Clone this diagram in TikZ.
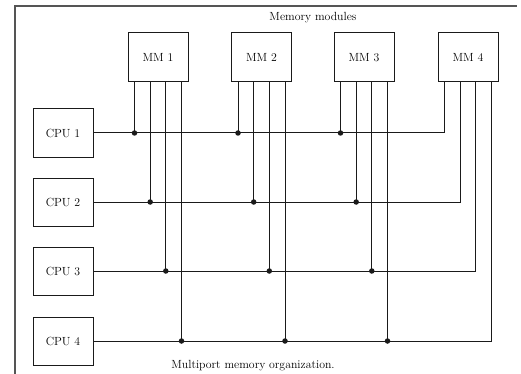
\documentclass[tikz,border=0pt]{standalone}
\usepackage{tikz}
\usetikzlibrary{calc}
\definecolor{framegray}{HTML}{555555}
\definecolor{inkblack}{HTML}{1A1A1A}

\begin{document}
\begin{tikzpicture}[x=1pt, y=-1pt, font=\fontsize{11.8}{13}\selectfont]
  \tikzstyle{mmbox}=[draw=inkblack,line width=1pt,minimum width=60pt,minimum height=49pt,inner sep=0pt]
  \tikzstyle{cpubox}=[draw=inkblack,line width=1pt,minimum width=60pt,minimum height=48pt,inner sep=0pt]
  \tikzstyle{wire}=[draw=inkblack,line width=1pt]
  \tikzstyle{dot}=[circle,fill=inkblack,inner sep=0pt,minimum size=5.5pt]
  \useasboundingbox (0,0) rectangle (521,374);
  % page frame
  \draw[framegray,line width=1.2pt] (15,374) -- (15,6) -- (517,6);
  % memory modules
  \node (title) at (313,18) {Memory modules};
  \node[mmbox] (mm1) at (158,57.5) {MM 1};
  \node[mmbox] (mm2) at (261.5,57.5) {MM 2};
  \node[mmbox] (mm3) at (364,57.5) {MM 3};
  \node[mmbox] (mm4) at (468,57.5) {MM 4};
  % processors
  \node[cpubox] (cpu1) at (63,133) {CPU 1};
  \node[cpubox] (cpu2) at (63,202) {CPU 2};
  \node[cpubox] (cpu3) at (63,271) {CPU 3};
  \node[cpubox] (cpu4) at (63,341) {CPU 4};
  \node (caption) at (253,366) {Multiport memory organization.};
  % buses from the processors
  \draw[wire] (cpu1.east) -| ([xshift=-23.5]mm4.south);
  \draw[wire] (cpu2.east) -| ([xshift=-7.8]mm4.south);
  \draw[wire] (cpu3.east) -| ([xshift=7.8]mm4.south);
  \draw[wire] (cpu4.east) -| ([xshift=23.5]mm4.south);
  % ports of MM 1
  \draw[wire] ([xshift=-23.5]mm1.south) -- ([xshift=-23.5]mm1.south |- cpu1.east) node[dot] {};
  \draw[wire] ([xshift=-7.8]mm1.south) -- ([xshift=-7.8]mm1.south |- cpu2.east) node[dot] {};
  \draw[wire] ([xshift=7.8]mm1.south) -- ([xshift=7.8]mm1.south |- cpu3.east) node[dot] {};
  \draw[wire] ([xshift=23.5]mm1.south) -- ([xshift=23.5]mm1.south |- cpu4.east) node[dot] {};
  % ports of MM 2
  \draw[wire] ([xshift=-23.5]mm2.south) -- ([xshift=-23.5]mm2.south |- cpu1.east) node[dot] {};
  \draw[wire] ([xshift=-7.8]mm2.south) -- ([xshift=-7.8]mm2.south |- cpu2.east) node[dot] {};
  \draw[wire] ([xshift=7.8]mm2.south) -- ([xshift=7.8]mm2.south |- cpu3.east) node[dot] {};
  \draw[wire] ([xshift=23.5]mm2.south) -- ([xshift=23.5]mm2.south |- cpu4.east) node[dot] {};
  % ports of MM 3
  \draw[wire] ([xshift=-23.5]mm3.south) -- ([xshift=-23.5]mm3.south |- cpu1.east) node[dot] {};
  \draw[wire] ([xshift=-7.8]mm3.south) -- ([xshift=-7.8]mm3.south |- cpu2.east) node[dot] {};
  \draw[wire] ([xshift=7.8]mm3.south) -- ([xshift=7.8]mm3.south |- cpu3.east) node[dot] {};
  \draw[wire] ([xshift=23.5]mm3.south) -- ([xshift=23.5]mm3.south |- cpu4.east) node[dot] {};
\end{tikzpicture}
\end{document}
